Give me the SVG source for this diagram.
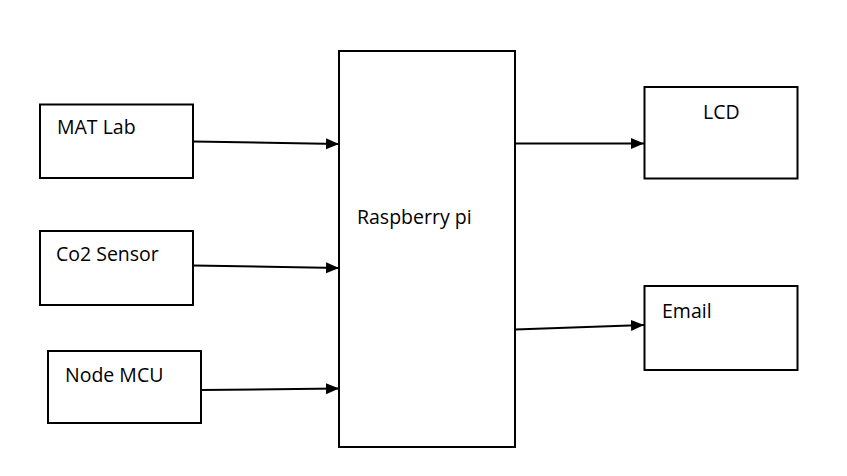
<svg xmlns="http://www.w3.org/2000/svg" width="847" height="476" viewBox="0 0 847 476">
<style>
.box{fill:#fff;stroke:#000;stroke-width:2}
.lbl{font-family:"Open Sans","Liberation Sans",sans-serif;font-size:19.5px;fill:#000}
.conn{stroke:#000;stroke-width:2;fill:none;marker-end:url(#ah)}
</style>
<defs>
<marker id="ah" markerUnits="userSpaceOnUse" markerWidth="14" markerHeight="12" refX="13" refY="5.5" orient="auto">
<path d="M0,0 L13,5.5 L0,11 Z" fill="#000"/>
</marker>
</defs>
<rect width="847" height="476" fill="#fff"/>
<g id="matlab"><rect class="box" x="40" y="104.5" width="153" height="73.5"/><text class="lbl" x="57" y="134">MAT Lab</text></g>
<g id="co2"><rect class="box" x="40" y="231" width="153" height="74"/><text class="lbl" x="56" y="260.5">Co2 Sensor</text></g>
<g id="nodemcu"><rect class="box" x="48" y="351" width="153" height="72"/><text class="lbl" x="65" y="382">Node MCU</text></g>
<g id="rpi"><rect class="box" x="339" y="51" width="176" height="396"/><text class="lbl" x="357" y="224">Raspberry pi</text></g>
<g id="lcd"><rect class="box" x="644.5" y="87" width="153" height="91.5"/><text class="lbl" x="703" y="119">LCD</text></g>
<g id="email"><rect class="box" x="644.5" y="286" width="153" height="84"/><text class="lbl" x="662" y="318">Email</text></g>
<g id="connectors">
<line class="conn" x1="193" y1="141.5" x2="339" y2="144"/>
<line class="conn" x1="193" y1="265.5" x2="339" y2="268"/>
<line class="conn" x1="201" y1="390" x2="339" y2="388.5"/>
<line class="conn" x1="515" y1="143.5" x2="644" y2="143.5"/>
<line class="conn" x1="515" y1="329.5" x2="644" y2="325"/>
</g>
</svg>
